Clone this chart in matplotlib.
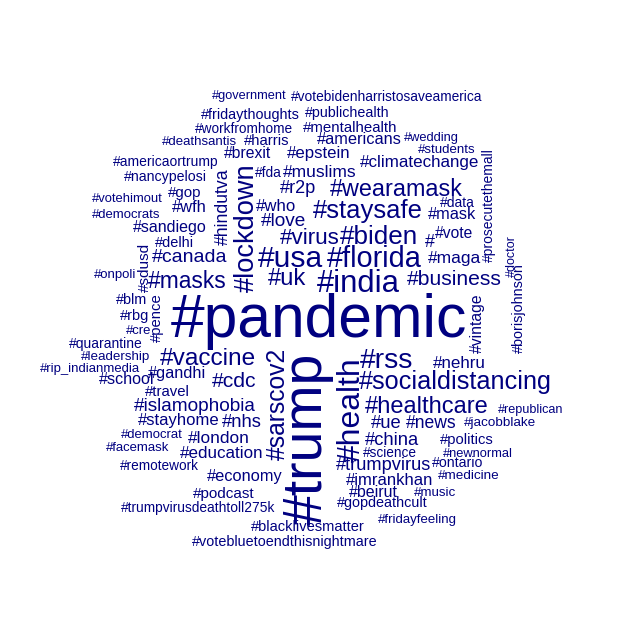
import matplotlib
matplotlib.use("Agg")
import matplotlib.pyplot as plt

# words in the cloud
words_h = [
    "#government", "#votebidenharristosaveamerica", "#fridaythoughts", "#publichealth",
    "#workfromhome", "#mentalhealth", "#deathsantis", "#harris", "#americans", "#wedding",
    "#students", "#brexit", "#epstein", "#americaortrump", "#climatechange", "#fda",
    "#muslims", "#nancypelosi", "#r2p", "#wearamask", "#gop", "#votehimout", "#wfh",
    "#who", "#data", "#democrats", "#staysafe", "#mask", "#sandiego", "#love", "#delhi",
    "#virus", "#biden", "#vote", "#", "#canada", "#usa", "#florida", "#maga", "#onpoli",
    "#uk", "#india", "#business", "#masks", "#blm", "#rbg", "#cre", "#pandemic",
    "#quarantine", "#leadership", "#rip_indianmedia", "#school", "#vaccine", "#gandhi",
    "#cdc", "#rss", "#nehru", "#socialdistancing", "#travel", "#islamophobia",
    "#healthcare", "#republican", "#stayhome", "#nhs", "#ue", "#news", "#jacobblake",
    "#democrat", "#london", "#china", "#politics", "#facemask", "#education", "#science",
    "#newnormal", "#trumpvirus", "#ontario", "#remotework", "#medicine", "#economy",
    "#imrankhan", "#beirut", "#music", "#podcast", "#gopdeathcult",
    "#trumpvirusdeathtoll275k", "#fridayfeeling", "#blacklivesmatter",
    "#votebluetoendthisnightmare",
]
words_v = [
    "#lockdown", "#hindutva", "#sdusd", "#pence", "#sarscov2", "#trump", "#health",
    "#vintage", "#prosecutethemall", "#doctor", "#borisjohnson",
]

# layout of horizontal words: left, right, baseline (pixels)
layout_h = [
    (211.7, 286.7, 99), (291, 482.7, 100.7), (200.7, 300, 119.3), (305, 389.3, 117.3),
    (195, 293.3, 132.7), (302.7, 397.3, 132.3), (161.7, 237.3, 145), (243.3, 289.3, 145),
    (316.7, 401.7, 144), (404, 459.3, 141), (418.3, 476, 152.7), (224.3, 271.7, 157.7),
    (286.7, 350, 158.3), (112.3, 218.3, 166), (360, 480, 166.7), (255, 281.7, 176.7),
    (283.3, 356.7, 176.7), (124.3, 206.7, 180.7), (280, 316.7, 192.7), (330, 463.3, 195.7),
    (168.3, 201.7, 196.7), (92.3, 163.3, 201.7), (171.7, 206.7, 211.7), (256, 296, 210.7),
    (440, 475, 206.7), (91.7, 160.7, 218.3), (312.7, 422.7, 218.3), (428.3, 476.7, 219.3),
    (132.7, 206.7, 231.7), (261, 306.7, 225.7), (155, 194, 247.3), (280, 340, 244),
    (340, 418.3, 244), (435, 473.3, 237.5), (425, 435, 246.7), (151.7, 226.7, 262.3),
    (258, 323, 267.3), (326, 421.7, 267.3), (428.3, 481.7, 263.3), (94.3, 136.7, 278.3),
    (268.3, 306.7, 285), (316.7, 400, 291.7), (406.7, 501.7, 285), (148.3, 226.7, 288.3),
    (116, 147.3, 304), (120, 149.3, 320), (126, 151.7, 334), (170, 467, 336.7),
    (69.3, 143.3, 348.3), (80.7, 150, 360), (40, 140, 371.7), (99.3, 155, 384.5),
    (160, 256.7, 365), (148.3, 206.7, 378.3), (211.7, 256.7, 386.7), (360, 413.3, 368.3),
    (432.7, 486, 368.3), (358.3, 551.7, 389), (145, 190, 396), (134, 256.7, 410.7),
    (365, 489.3, 412.7), (498.3, 564, 413.3), (138.3, 220, 425), (221.7, 261.7, 426.7),
    (371, 401.7, 428.3), (406, 456.7, 428.3), (464, 536, 426), (120.7, 183.3, 438.3),
    (188.3, 250, 442.7), (365, 419.3, 445), (440, 493.3, 444.3), (105.7, 169.3, 450.7),
    (180, 263.3, 458.3), (362.7, 416.7, 457.3), (442.7, 513.3, 457.3), (336, 431.7, 470),
    (431.7, 483.3, 467.3), (120, 199.3, 470), (438.3, 500, 479), (206.7, 282.7, 480.7),
    (346, 433.3, 485), (349.3, 398.3, 496.7), (414, 456.7, 496), (193.3, 255, 498.3),
    (336.7, 427.7, 506.7), (121, 275, 511.7), (377.3, 456.7, 523.3), (250.7, 364, 530.7),
    (192.7, 377.3, 545.7),
]
# layout of vertical words: bottom, top, baseline x (pixels)
layout_v = [
    (292, 163, 254), (245, 168, 228), (292, 243, 149), (342, 293, 161), (460, 347, 285),
    (525, 352, 322), (462, 357, 360), (353, 293, 482), (262, 148, 493), (277, 235, 515),
    (353, 263, 523),
]

colour = "#000080"
font = "Liberation Sans"

fig = plt.figure(figsize=(6.4, 6.4), dpi=100)
ax = fig.add_axes([0, 0, 1, 1])
ax.set_xlim(0, 640)
ax.set_ylim(640, 0)
ax.axis("off")
fig.canvas.draw()
renderer = fig.canvas.get_renderer()


def fit_size(word, target):
    # font size that makes the word span the target length
    t = ax.text(0, 0, word, fontsize=10, family=font)
    w = t.get_window_extent(renderer).width
    t.remove()
    return 10 * target / w


for word, (x0, x1, base) in zip(words_h, layout_h):
    size = fit_size(word, x1 - x0)
    ax.text((x0 + x1) / 2, base, word, fontsize=size, family=font, color=colour,
            ha="center", va="baseline")

for word, (y0, y1, base) in zip(words_v, layout_v):
    size = fit_size(word, abs(y0 - y1))
    ax.text(base, (y0 + y1) / 2, word, fontsize=size, family=font, color=colour,
            ha="center", va="baseline", rotation=90, rotation_mode="anchor")

fig.savefig("out.png", dpi=100)
